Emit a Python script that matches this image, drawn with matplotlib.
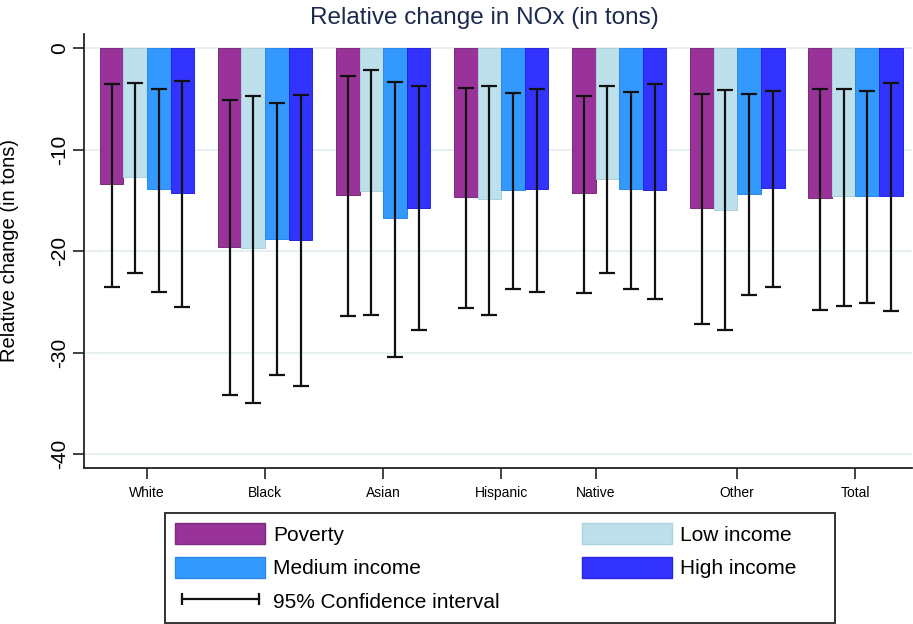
import matplotlib
matplotlib.use('Agg')
import matplotlib.pyplot as plt
import numpy as np
from matplotlib.patches import Patch, Rectangle
from matplotlib.lines import Line2D

plt.rcParams['font.family'] = ['Liberation Sans', 'DejaVu Sans']

groups = ['White', 'Black', 'Asian', 'Hispanic', 'Native', 'Other', 'Total']
series = ['Poverty', 'Low income', 'Medium income', 'High income']

poverty = [-13.4, -19.6, -14.5, -14.7, -14.3, -15.7, -14.8]
poverty_lo = [-23.5, -34.2, -26.4, -25.6, -24.1, -27.2, -25.8]
poverty_hi = [-3.5, -5.1, -2.7, -3.9, -4.7, -4.5, -4.0]

low = [-12.7, -19.7, -14.1, -14.9, -12.9, -15.9, -14.6]
low_lo = [-22.1, -34.9, -26.3, -26.3, -22.1, -27.8, -25.4]
low_hi = [-3.4, -4.7, -2.1, -3.7, -3.7, -4.1, -4.0]

medium = [-13.9, -18.8, -16.7, -14.0, -13.9, -14.4, -14.6]
medium_lo = [-24.0, -32.2, -30.4, -23.7, -23.7, -24.3, -25.1]
medium_hi = [-4.0, -5.4, -3.3, -4.4, -4.3, -4.5, -4.2]

high = [-14.3, -18.9, -15.7, -13.9, -14.0, -13.8, -14.6]
high_lo = [-25.5, -33.3, -27.8, -24.0, -24.7, -23.5, -25.9]
high_hi = [-3.2, -4.6, -3.7, -4.0, -3.5, -4.2, -3.4]

yticks = [0, -10, -20, -30, -40]

colors = ['#993399', '#bde0ea', '#3399ff', '#3333ff']
edges = ['#7d2a7d', '#a9d3df', '#2a88e8', '#2525e0']

fig = plt.figure(figsize=(9.13, 6.24), dpi=100)
ax = fig.add_axes([84 / 913, 1 - 468 / 624, 828 / 913, 434 / 624])

x = np.arange(len(groups))
w = 0.2
vals = [poverty, low, medium, high]
los = [poverty_lo, low_lo, medium_lo, high_lo]
his = [poverty_hi, low_hi, medium_hi, high_hi]
for i in range(4):
    xs = x + (i - 1.5) * w
    v = np.array(vals[i])
    lo = np.array(los[i])
    hi = np.array(his[i])
    ax.bar(xs, v, width=w, color=colors[i], edgecolor=edges[i], linewidth=0.7, zorder=2)
    ax.errorbar(xs, v, yerr=[v - lo, hi - v], fmt='none', ecolor='#111111',
                elinewidth=1.6, capsize=5.5, capthick=1.6, zorder=3)

ax.set_xlim(-0.534, 6.48)
ax.set_ylim(-41.35, 1.4)

# stata puts the Native label a bit left of its bars
tick_pos = x.astype(float)
tick_pos[4] -= 0.2
ax.set_xticks(tick_pos)
ax.set_xticklabels(groups, fontsize=10)
ax.tick_params(axis='x', length=8, width=1.2, pad=5, color='#222222')

ax.set_yticks(yticks)
ax.set_yticklabels([str(t) for t in yticks], rotation=90, va='center', fontsize=15)
ax.tick_params(axis='y', length=8, width=1.2, pad=3, color='#222222')

ax.yaxis.grid(True, color='#e4eef1', linewidth=1.3)
ax.set_axisbelow(True)
for s in ['top', 'right']:
    ax.spines[s].set_visible(False)
for s in ['left', 'bottom']:
    ax.spines[s].set_linewidth(1.3)
    ax.spines[s].set_color('#222222')

ax.set_ylabel('Relative change (in tons)', fontsize=14.5)
ax.yaxis.set_label_coords(-0.078, 0.5)

fig.text(484 / 913, 1 - 18 / 624, 'Relative change in NOx (in tons)', ha='center', va='center',
         fontsize=17.5, color='#1b2a4e')

# legend
handles = [Patch(facecolor=colors[0], edgecolor=edges[0]),
           Patch(facecolor=colors[2], edgecolor=edges[2]),
           Line2D([], [], color='#111111', lw=1.6, marker='|', markersize=8, mew=1.6),
           Patch(facecolor=colors[1], edgecolor=edges[1]),
           Patch(facecolor=colors[3], edgecolor=edges[3])]
labels = [series[0], series[2], '95% Confidence interval', series[1], series[3]]
leg = fig.legend(handles, labels, ncol=2, loc='upper left',
                 bbox_to_anchor=(165 / 913, 1 - 513 / 624), frameon=False,
                 fontsize=15, handlelength=4.3, handleheight=1.15, handletextpad=0.4,
                 columnspacing=3.95, labelspacing=0.58, borderpad=0.5, borderaxespad=0,
                 numpoints=2)
fig.patches.append(Rectangle((165 / 913, 1 - 623 / 624), 670 / 913, 110 / 624,
                             transform=fig.transFigure, fill=False, edgecolor='#333333',
                             linewidth=1.4))

fig.savefig('out.png', dpi=100)
